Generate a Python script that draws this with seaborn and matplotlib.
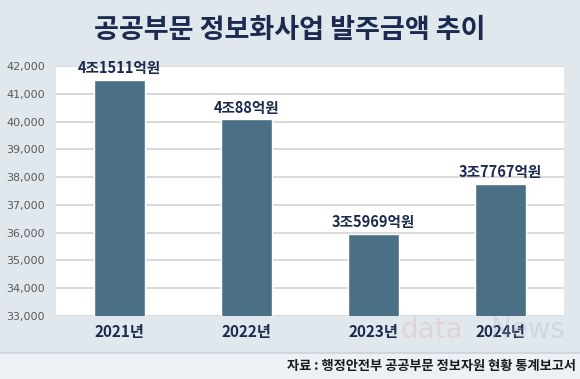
"""Public sector IT project order amounts - bar chart."""

import pandas as pd
import seaborn as sns
import matplotlib.pyplot as plt
from matplotlib.patches import Rectangle
from matplotlib.lines import Line2D

years = ['2021년', '2022년', '2023년', '2024년']
amounts = [41511, 40088, 35969, 37767]  # 억원
labels = ['4조1511억원', '4조88억원', '3조5969억원', '3조7767억원']
yticks = list(range(33000, 42001, 1000))

NAVY = '#1b2a4e'
BAR = '#4b7086'
BG = '#e0e8ee'

sns.set_theme(style='white')
plt.rcParams['font.family'] = ['Noto Sans CJK KR', 'DejaVu Sans']

df = pd.DataFrame({'year': years, 'amount': amounts})

fig = plt.figure(figsize=(5.8, 3.79), dpi=100)
fig.patch.set_facecolor(BG)

# lower footer band
fig.patches.append(Rectangle((0, 0), 1, 26 / 379, transform=fig.transFigure,
                             facecolor='#edf1f5', edgecolor='none', zorder=0))
fig.lines.append(Line2D([0, 1], [26.5 / 379, 26.5 / 379], transform=fig.transFigure,
                        color='#c9d3db', linewidth=1.2))

# faint watermark, drawn behind everything
fig.text(400 / 580, 1 - 330 / 379, 'data', fontsize=20, color='#e3a0a0', alpha=0.28,
         ha='left', va='center', family=['DejaVu Sans'], zorder=0)
fig.text(565 / 580, 1 - 330 / 379, 'News', fontsize=20, color='#a9b0b8', alpha=0.28,
         ha='right', va='center', family=['DejaVu Sans'], zorder=0)

ax = fig.add_axes([56 / 580, 1 - 316 / 379, 508 / 580, 250 / 379])
ax.set_facecolor('white')

sns.barplot(data=df, x='year', y='amount', color=BAR, width=0.40,
            saturation=1, ax=ax, zorder=3)

ax.set_ylim(33000, 42000)
ax.set_yticks(yticks)
ax.set_yticklabels([f'{v:,}' for v in yticks], fontsize=8, color='#595959',
                   family=['DejaVu Sans'])
ax.yaxis.grid(True, color='#d9d9d9', linewidth=1.4, zorder=0)
ax.set_axisbelow(True)
for s in ax.spines.values():
    s.set_visible(False)
ax.tick_params(axis='y', length=0, pad=8)
ax.tick_params(axis='x', length=0, pad=6)
ax.set_xlabel('')
ax.set_ylabel('')
for t in ax.get_xticklabels():
    t.set_fontsize(11)
    t.set_color(NAVY)
    t.set_fontweight('bold')

for i, (v, lab) in enumerate(zip(amounts, labels)):
    ax.text(i, v + 120, lab, ha='center', va='bottom', fontsize=10.5,
            fontweight='bold', color=NAVY, zorder=4)

fig.text(0.5, 1 - 30 / 379, '공공부문 정보화사업 발주금액 추이', ha='center',
         va='center', fontsize=19.5, fontweight='bold', color=NAVY)

fig.text(576 / 580, 1 - 366 / 379, '자료 : 행정안전부 공공부문 정보자원 현황 통계보고서',
         ha='right', va='center', fontsize=9.5, fontweight='bold', color='#1a1a1a')

fig.savefig('out.png', dpi=100, facecolor=fig.get_facecolor())
